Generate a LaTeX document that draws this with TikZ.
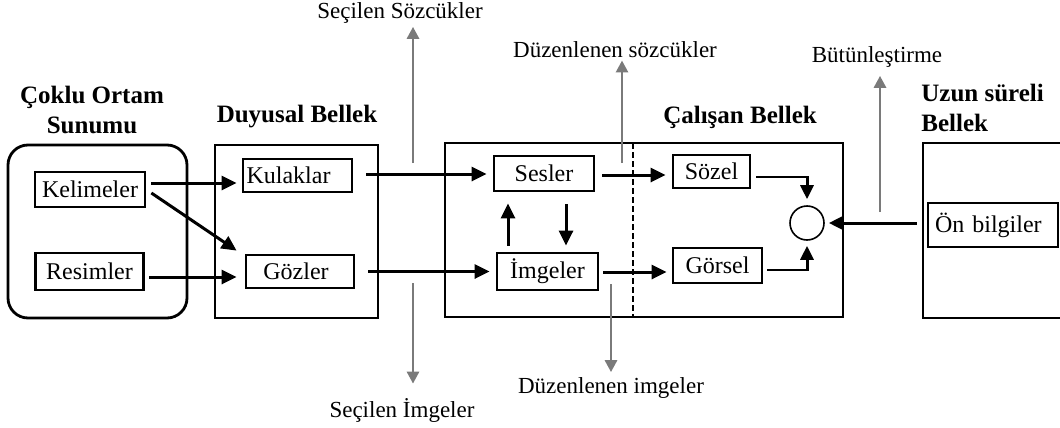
\documentclass[tikz,border=0pt]{standalone}
\usepackage{fontspec}
\setmainfont{Liberation Serif}
\usetikzlibrary{arrows.meta,calc}

\begin{document}
\begin{tikzpicture}[x=0.5pt,y=-0.5pt,
  box/.style={draw,line width=1.4pt,inner sep=0pt,font=\fontsize{12}{14}\selectfont},
  panel/.style={draw,line width=1.4pt,inner sep=0pt},
  heading/.style={font=\fontsize{12.5}{15}\selectfont\bfseries,align=center,inner sep=0pt},
  lbl/.style={font=\fontsize{11.5}{13}\selectfont,inner sep=0pt},
  flow/.style={line width=1.5pt,-{Triangle[length=7.5pt,width=7pt]}},
  feed/.style={line width=1.5pt,-{Triangle[length=7pt,width=6.5pt]}},
  wire/.style={line width=0.75pt},
  gflow/.style={draw=black!52,line width=1.4pt,-{Triangle[length=6pt,width=6pt]}}
]
\useasboundingbox (0,0) rectangle (1060,428);

% outer panels
\node[panel,rounded corners=10pt,minimum width=89.5pt,minimum height=86.5pt] (cobox) at (97.5,231.5) {};
\node[panel,minimum width=81.5pt,minimum height=86.5pt] (dbox) at (296.5,231.5) {};
\node[panel,minimum width=199pt,minimum height=87pt] (cbox) at (644,230) {};
\draw[panel] (1062,143) -| (923,318) -- (1062,318);
\draw[line width=0.6pt,dash pattern=on 3pt off 1.5pt] (633,143) -- (633,317);

% headings
\node[heading] (cotitle) at (92,110) {Çoklu Ortam\\Sunumu};
\node[heading] (dtitle) at (297,117) {Duyusal Bellek};
\node[heading] (ctitle) at (740,117) {Çalışan Bellek};
\node[heading,align=left,anchor=west] (utitle) at (921,107.5) {Uzun süreli\\Bellek};

% inner boxes
\node[box,minimum width=55pt,minimum height=17.5pt] (kel) at (90,189.5) {Kelimeler};
\node[box,minimum width=54pt,minimum height=18.5pt] (res) at (89.5,271.5) {Resimler};
\node[box,minimum width=54.5pt,minimum height=16.5pt] (kul) at (297.5,175.5) {\hspace*{-9pt}Kulaklar};
\node[box,minimum width=54pt,minimum height=16.5pt] (goz) at (300,271.5) {\hspace*{-4pt}Gözler};
\node[box,minimum width=50pt,minimum height=17.5pt] (ses) at (544,173.5) {Sesler};
\node[box,minimum width=50.5pt,minimum height=18.5pt] (img) at (547.5,271.5) {İmgeler};
\node[box,minimum width=38.5pt,minimum height=16.5pt] (soz) at (711.5,171.5) {Sözel};
\node[box,minimum width=44.5pt,minimum height=17.5pt] (gor) at (717.5,265.5) {Görsel};
\node[draw,circle,line width=0.8pt,minimum size=17pt,inner sep=0pt] (circ) at (807,223) {};
\node[box,text width=58pt,inner xsep=3.5pt,align=left,minimum height=22pt] (onb) at (993,225) {Ön bilgiler};

% sensory input
\draw[flow] ([shift={(5,-6.5)}]kel.east) -- ([shift={(-5,7.5)}]kul.west);
\draw[flow] ([shift={(5,3.5)}]kel.east) -- ([shift={(-8,-3)}]goz.north west);
\draw[flow] ([shift={(4.5,5.5)}]res.east) -- ([shift={(-8,5.5)}]goz.west);
\draw[flow] ([shift={(13,-1.5)}]kul.east) -- ([shift={(-6,0.5)}]ses.west);
\draw[flow] ([shift={(13,0)}]goz.east) -- ([shift={(-6,0)}]img.west);

% working memory
\draw[flow] ([shift={(-39.5,-6)}]img.north) -- ([shift={(-36,11)}]ses.south);
\draw[flow] ([shift={(22,12)}]ses.south) -- ([shift={(18.5,-6)}]img.north);
\draw[flow] ([shift={(7,1.5)}]ses.east) -- ([shift={(-6,3.5)}]soz.west);
\draw[flow] ([shift={(4,0.5)}]img.east) -- ([shift={(-5,6.5)}]gor.west);

% integration into the circle
\coordinate (sozturn) at (807,177);
\coordinate (gorturn) at (807,270);
\draw[wire] ([shift={(5,5.5)}]soz.east) -- (sozturn);
\draw[feed] ([yshift=0.3pt]sozturn) -- ([yshift=3pt]circ.north);
\draw[wire] ([shift={(4,4.5)}]gor.east) -- (gorturn);
\draw[feed] ([yshift=-0.3pt]gorturn) -- ([yshift=-2.5pt]circ.south);
\draw[feed] ([shift={(-10,-2)}]onb.west) -- ([xshift=2pt]circ.east);

% selection and organisation labels
\node[lbl] (ss) at (400,13) {Seçilen Sözcükler};
\node[lbl] (ds) at (615,50) {Düzenlenen sözcükler};
\node[lbl] (bt) at (877,57) {Bütünleştirme};
\node[lbl] (si) at (402,410) {Seçilen İmgeler};
\node[lbl] (di) at (611,388) {Düzenlenen imgeler};

\coordinate (ssfoot) at (413,163);
\coordinate (dsfoot) at (622,163);
\coordinate (btfoot) at (880,212);
\coordinate (sitop) at (413,283);
\coordinate (ditop) at (611,284);
\draw[gflow,shorten >=1.5pt] (ssfoot) -- (ssfoot |- ss.south);
\draw[gflow,shorten >=1pt] (dsfoot) -- (dsfoot |- ds.south);
\draw[gflow,shorten >=4pt] (btfoot) -- (btfoot |- bt.south);
\draw[gflow,shorten >=7pt] (sitop) -- (sitop |- si.north);
\draw[gflow,shorten >=2.5pt] (ditop) -- (ditop |- di.north);
\end{tikzpicture}
\end{document}
